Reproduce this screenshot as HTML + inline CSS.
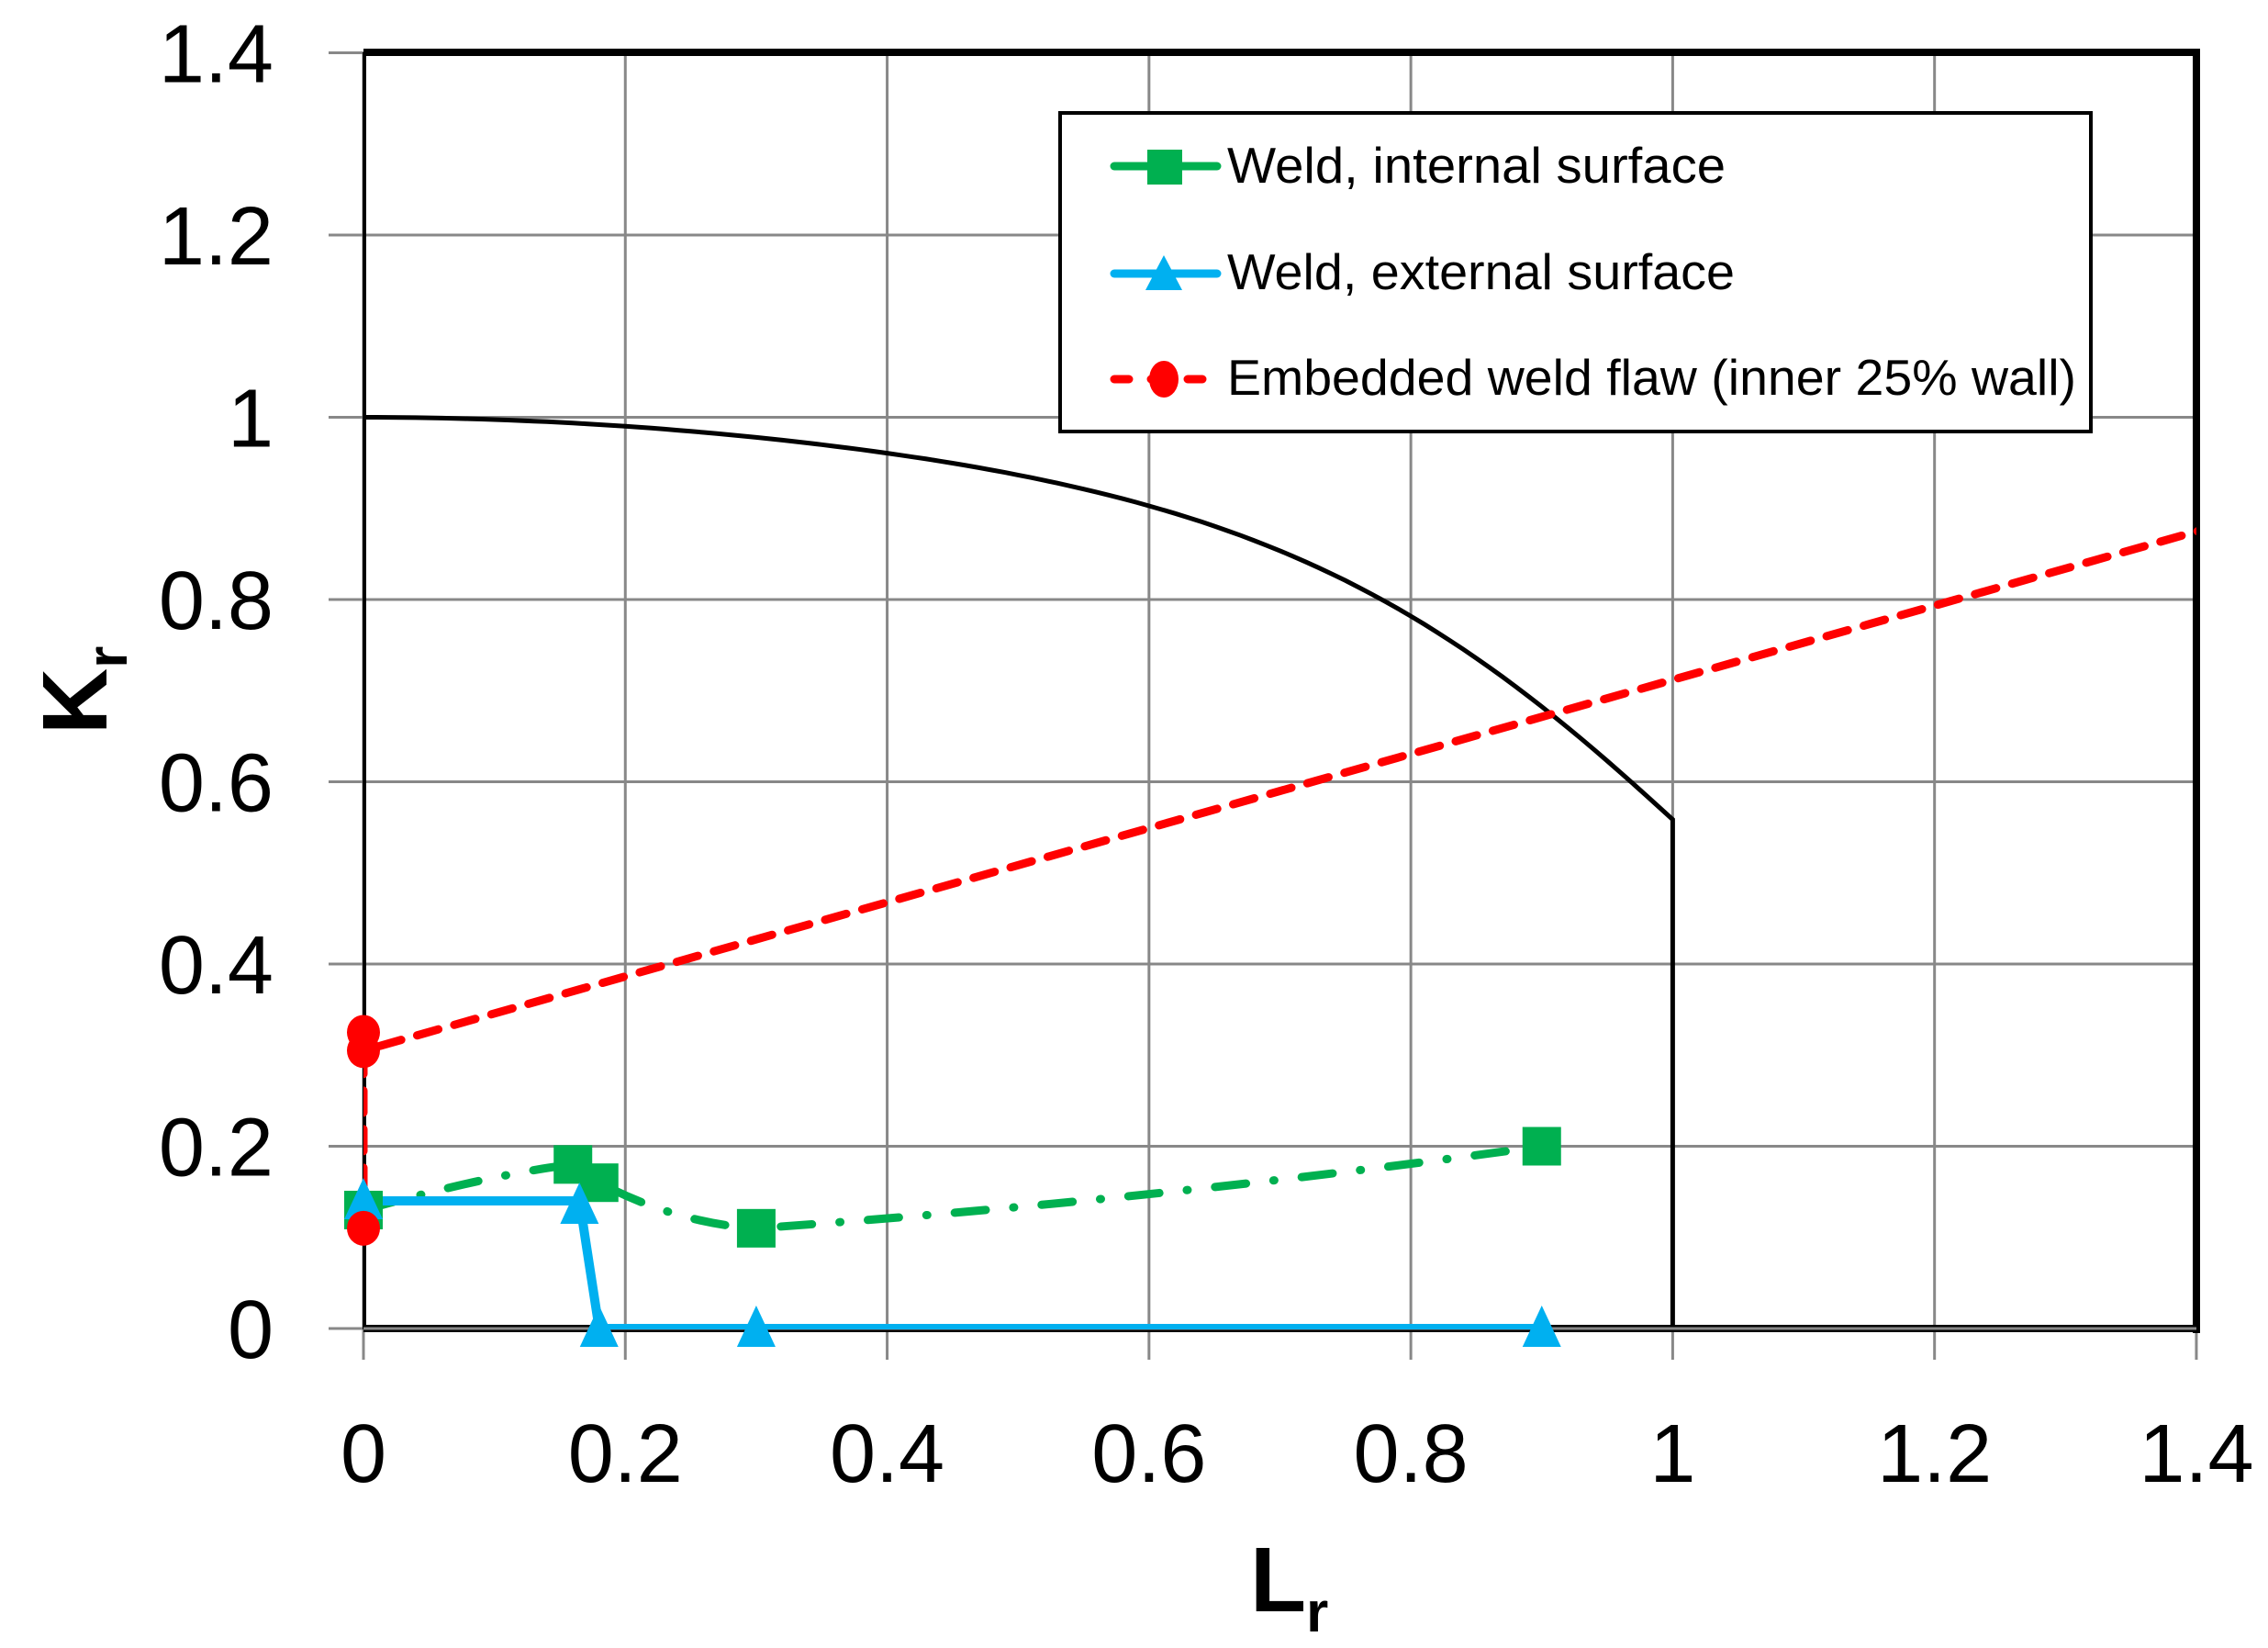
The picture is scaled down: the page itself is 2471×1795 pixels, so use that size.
<!DOCTYPE html>
<html><head><meta charset="utf-8"><style>
html,body{margin:0;padding:0;background:#fff;}
svg{display:block;}
text{font-family:"Liberation Sans",sans-serif;fill:#000;}
</style></head><body>
<svg id="s" width="2471" height="1795" viewBox="0 0 2471 1795" xmlns="http://www.w3.org/2000/svg">
<defs><clipPath id="c"><rect x="396" y="57" width="1997" height="1391"/></clipPath></defs>
<g id="grid" stroke="#888" stroke-width="3"></g>
<g id="lbl" font-size="90"></g>
<path id="fad" fill="none" stroke="#000" stroke-width="5"/>
<line x1="397" y1="57" x2="397" y2="1448" stroke="#000" stroke-width="4"/>
<line x1="396" y1="57" x2="2397" y2="57" stroke="#000" stroke-width="8"/>
<line x1="2393" y1="57" x2="2393" y2="1452" stroke="#000" stroke-width="8"/>
<line x1="396" y1="1447" x2="2393" y2="1447" stroke="#000" stroke-width="8"/>
<line x1="396" y1="1447" x2="2393" y2="1447" stroke="#888" stroke-width="3"/>
<g id="series" clip-path="url(#c)"></g>
<g id="mk"></g>
<text x="1362" y="1755" font-size="100" font-weight="bold">L<tspan font-size="62" dy="22">r</tspan></text>
<text transform="translate(116,800) rotate(-90)" font-size="100" font-weight="bold">K<tspan font-size="62" dy="22">r</tspan></text>
<rect x="1155" y="123" width="1123" height="347" fill="#fff" stroke="#000" stroke-width="4"/>
<g font-size="55">
<line x1="1214" y1="181" x2="1326" y2="181" stroke="#00b050" stroke-width="9" stroke-linecap="round"/>
<rect x="1250" y="163" width="38" height="38" fill="#00b050"/>
<text x="1337" y="199" textLength="543" lengthAdjust="spacingAndGlyphs">Weld, internal surface</text>
<line x1="1214" y1="298" x2="1326" y2="298" stroke="#00b0f0" stroke-width="9" stroke-linecap="round"/>
<polygon points="1268,278 1288,316 1248,316" fill="#00b0f0"/>
<text x="1337" y="315" textLength="553" lengthAdjust="spacingAndGlyphs">Weld, external surface</text>
<line x1="1214" y1="413" x2="1326" y2="413" stroke="#f00" stroke-width="9" stroke-dasharray="16,24" stroke-linecap="round"/>
<ellipse cx="1268" cy="413" rx="16" ry="20" fill="#f00"/>
<text x="1337" y="430" textLength="925" lengthAdjust="spacingAndGlyphs">Embedded weld flaw (inner 25% wall)</text>
</g>
</svg>
<script>
var X=v=>396+v*1426.4, Y=v=>1447-v*992.5, ns="http://www.w3.org/2000/svg";
function el(p,t,a){var e=document.createElementNS(ns,t);for(var k in a)e.setAttribute(k,a[k]);document.getElementById(p).appendChild(e);return e;}
for(var i=0;i<=7;i++){var v=i*0.2;
 el("grid","line",{x1:X(v),y1:57,x2:X(v),y2:1481});
 el("grid","line",{x1:358,y1:Y(v),x2:2393,y2:Y(v)});
 var s=(i==0?"0":i==5?"1":v.toFixed(1));
 var t=el("lbl","text",{x:X(v),y:1614,"text-anchor":"middle"});t.textContent=s;
 var t2=el("lbl","text",{x:298,y:Y(v)+32,"text-anchor":"end"});t2.textContent=s;}
var d="";for(var i=0;i<=100;i++){var L=i/100;var K=Math.pow(1+0.5*L*L,-0.5)*(0.3+0.7*Math.exp(-0.6*Math.pow(L,6)));d+=(i?"L":"M")+X(L).toFixed(1)+","+Y(K).toFixed(1);}
d+="L"+X(1)+","+Y(0);document.getElementById("fad").setAttribute("d",d);
el("series","path",{d:"M"+X(0)+","+Y(0.11)+"L"+X(0)+","+Y(0.325)+"L"+X(0)+","+Y(0.305)+"L"+X(1.45)+","+Y(0.895),fill:"none",stroke:"#f00","stroke-width":9,"stroke-dasharray":"24,18","stroke-linecap":"round"});
el("series","path",{d:"M"+X(0)+","+Y(0.13)+"Q"+X(0.1)+","+Y(0.17)+" "+X(0.16)+","+Y(0.18)+"L"+X(0.18)+","+Y(0.16)+"Q"+X(0.24)+","+Y(0.115)+" "+X(0.3)+","+Y(0.11)+"Q"+X(0.6)+","+Y(0.14)+" "+X(0.9)+","+Y(0.2),fill:"none",stroke:"#00b050","stroke-width":9,"stroke-dasharray":"34,30,1,30","stroke-linecap":"round"});
el("series","path",{d:"M"+X(0)+","+Y(0.14)+"L"+X(0.165)+","+Y(0.14)+"L"+X(0.18)+","+Y(0.0)+"L"+X(0.9)+","+Y(0),fill:"none",stroke:"#00b0f0","stroke-width":10});
[[0,0.13],[0.16,0.18],[0.18,0.16],[0.3,0.11],[0.9,0.2]].forEach(p=>el("mk","rect",{x:X(p[0])-21,y:Y(p[1])-21,width:42,height:42,fill:"#00b050"}));
[[0,0.14],[0.165,0.135],[0.18,0],[0.3,0],[0.9,0]].forEach(p=>{var x=X(p[0]),y=Y(p[1]);el("mk","polygon",{points:x+","+(y-25)+" "+(x+21)+","+(y+20)+" "+(x-21)+","+(y+20),fill:"#00b0f0"});});
[[0,0.325],[0,0.305],[0,0.11]].forEach(p=>el("mk","ellipse",{cx:X(p[0]),cy:Y(p[1]),rx:18,ry:19,fill:"#f00"}));
</script>
</body></html>
